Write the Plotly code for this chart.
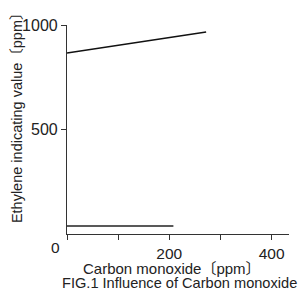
import plotly.graph_objects as go

# Data
upper_x = [0, 272]
upper_y = [866, 967]
lower_x = [0, 208]
lower_y = [38, 38]

x_tickvals = [0, 100, 200, 300, 400]
x_ticktext = ["", "", "200", "", "400"]
y_tickvals = [500, 1000]
y_ticktext = ["500", "1000"]

FONT = "Liberation Sans, Arial, Noto Sans CJK JP, sans-serif"

W, H = 305, 291
L, R, T, B = 66.5, 305 - 289, 25, 291 - 234

fig = go.Figure()
fig.add_trace(go.Scatter(x=upper_x, y=upper_y, mode="lines",
                         line=dict(color="#111111", width=1.5), showlegend=False))
fig.add_trace(go.Scatter(x=lower_x, y=lower_y, mode="lines",
                         line=dict(color="#222222", width=1.5), showlegend=False))

pw = W - L - R
ph = H - T - B


def px2paper(px, py):
    return (px - L) / pw, 1 - (py - T) / ph


ann = []
for text, px, py, size, angle in [
    ("0", 55, 247.5, 15.5, 0),
    ("Carbon monoxide〔ppm〕", 172, 268.2, 15, 0),
    ("FIG.1 Influence of Carbon monoxide", 179, 283, 14.6, 0),
    ("Ethylene indicating value〔ppm〕", 17, 114.5, 14.5, -90),
]:
    x, y = px2paper(px, py)
    ann.append(dict(text=text, x=x, y=y, xref="paper", yref="paper",
                    xanchor="center", yanchor="middle", showarrow=False,
                    textangle=angle, font=dict(size=size)))

fig.update_layout(
    width=W, height=H,
    margin=dict(l=L, r=R, t=T, b=B, autoexpand=False),
    paper_bgcolor="white", plot_bgcolor="white",
    font=dict(family=FONT, size=15, color="#222222"),
    xaxis=dict(range=[0, 434], tickvals=x_tickvals, ticktext=x_ticktext,
               showgrid=False, zeroline=False, showline=True, linecolor="#333333",
               linewidth=1.2, ticks="outside", ticklen=5, tickcolor="#333333",
               tickfont=dict(size=15.5), automargin=False),
    yaxis=dict(range=[0, 1000], tickvals=y_tickvals, ticktext=y_ticktext,
               showgrid=False, zeroline=False, showline=True, linecolor="#333333",
               linewidth=1.2, ticks="outside", ticklen=5, tickcolor="#333333",
               tickfont=dict(size=16), automargin=False),
    annotations=ann,
)

fig.write_html("out.html", config={"displayModeBar": False},
               post_script="document.body.style.margin='0px';document.body.style.overflow='hidden';")
